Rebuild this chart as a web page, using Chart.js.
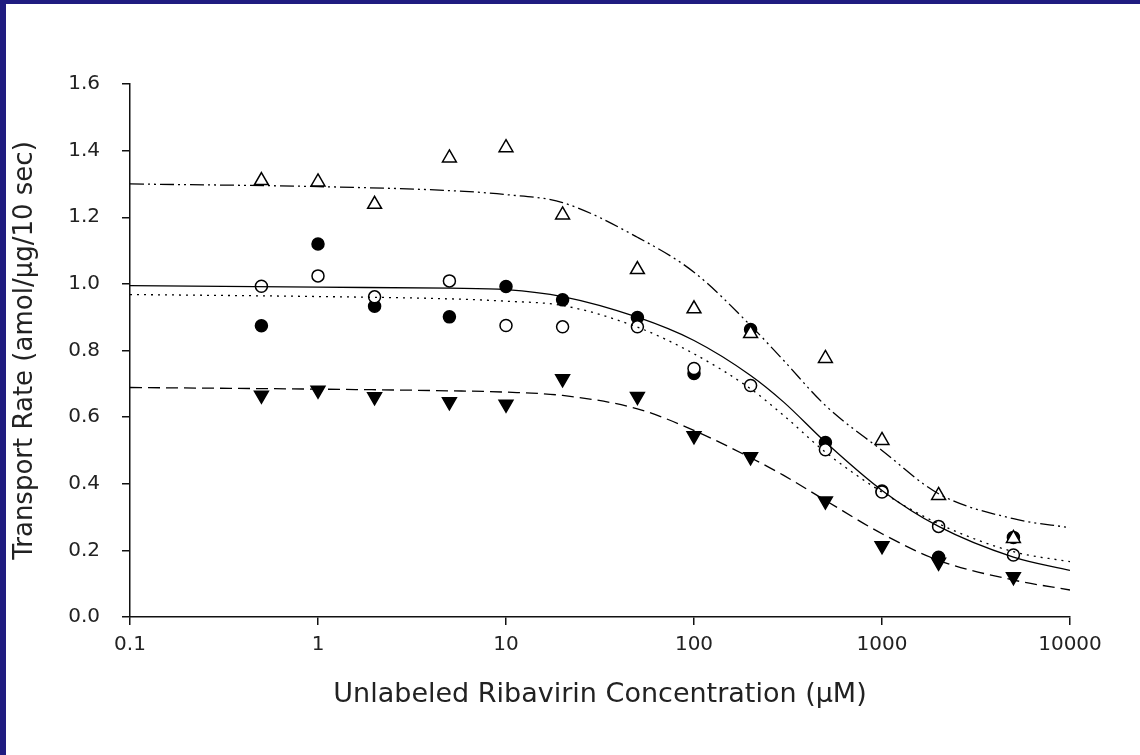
<!DOCTYPE html>
<html>
<head>
<meta charset="utf-8">
<script src="https://cdn.jsdelivr.net/npm/chart.js@4.4.1/dist/chart.umd.min.js"></script>
<style>
  html, body { margin: 0; padding: 0; background: #fff; }
  canvas { display: block; }
</style>
</head>
<body>
<canvas id="transportChart" width="1140" height="755"></canvas>
<script>
// measured concentrations (uM)
const concentrations = [0.5, 1, 2, 5, 10, 20, 50, 100, 200, 500, 1000, 2000, 5000];

// data points
const openTriangles = [1.31, 1.306, 1.239, 1.378, 1.409, 1.207, 1.043, 0.925, 0.851, 0.776, 0.530, 0.365, 0.236];
const filledCircles = [0.874, 1.12, 0.933, 0.901, 0.992, 0.952, 0.899, 0.731, 0.863, 0.524, 0.378, 0.179, 0.239];
const openCircles = [0.993, 1.024, 0.961, 1.009, 0.875, 0.871, 0.871, 0.746, 0.695, 0.502, 0.375, 0.272, 0.186];
const filledTriangles = [0.666, 0.681, 0.661, 0.646, 0.639, 0.715, 0.662, 0.544, 0.481, 0.348, 0.214, 0.164, 0.121];

// fitted curves, sampled from the figure
const curveX = [0.1, 1, 5, 10, 20, 50, 100, 200, 300, 500, 1000, 2000, 5000, 10000];
const curveOpenTriangles = [1.300, 1.292, 1.280, 1.268, 1.244, 1.14, 1.035, 0.875, 0.77, 0.635, 0.50, 0.37, 0.295, 0.268];
const curveFilledCircles = [0.995, 0.99, 0.987, 0.983, 0.962, 0.90, 0.83, 0.725, 0.645, 0.525, 0.38, 0.272, 0.18, 0.14];
const curveOpenCircles = [0.968, 0.962, 0.955, 0.948, 0.935, 0.87, 0.79, 0.685, 0.605, 0.495, 0.375, 0.28, 0.196, 0.166];
const curveFilledTriangles = [0.689, 0.684, 0.679, 0.675, 0.665, 0.625, 0.56, 0.478, 0.425, 0.35, 0.25, 0.17, 0.111, 0.081];

// axis ticks
const xTicks = [0.1, 1, 10, 100, 1000, 10000];
const yTicks = [0, 0.2, 0.4, 0.6, 0.8, 1.0, 1.2, 1.4, 1.6];

const pts = (xs, ys) => xs.map((x, i) => ({ x: x, y: ys[i] }));

function curve(ys, dash) {
    return {
        type: 'line',
        data: pts(curveX, ys),
        borderColor: '#000',
        borderWidth: 1.3,
        borderDash: dash,
        pointRadius: 0,
        cubicInterpolationMode: 'monotone',
        fill: false
    };
}

function markers(ys, style, filled, rotation) {
    return {
        type: 'scatter',
        data: pts(concentrations, ys),
        pointStyle: style,
        pointRotation: rotation || 0,
        pointRadius: style === 'circle' ? 6 : 8,
        pointBorderWidth: 1.5,
        pointBorderColor: '#000',
        pointBackgroundColor: filled ? '#000' : '#fff',
        showLine: false
    };
}

// white page with the navy frame at top and left
const framePlugin = {
    id: 'frame',
    beforeDraw(chart) {
        const c = chart.ctx;
        c.save();
        c.fillStyle = '#fff';
        c.fillRect(0, 0, chart.width, chart.height);
        c.fillStyle = '#1f1c80';
        c.fillRect(0, 0, chart.width, 4);
        c.fillRect(0, 0, 6, chart.height);
        c.restore();
    }
};

const tickFont = { family: 'DejaVu Sans', size: 20 };
const xTitleFont = { family: 'DejaVu Sans', size: 27 };
const yTitleFont = { family: 'DejaVu Sans', size: 26 };

const ctx = document.getElementById('transportChart').getContext('2d');
new Chart(ctx, {
    data: {
        datasets: [
            curve(curveOpenTriangles, [14, 4, 2, 4, 2, 4]),
            curve(curveFilledCircles, []),
            curve(curveOpenCircles, [2, 5]),
            curve(curveFilledTriangles, [12, 6]),
            markers(filledTriangles, 'triangle', true, 180),
            markers(openTriangles, 'triangle', false),
            markers(openCircles, 'circle', false),
            markers(filledCircles, 'circle', true)
        ]
    },
    options: {
        responsive: false,
        animation: false,
        layout: { padding: { top: 84, right: 70, bottom: 0, left: 0 } },
        plugins: {
            legend: { display: false },
            tooltip: { enabled: false }
        },
        scales: {
            x: {
                type: 'logarithmic',
                position: 'bottom',
                min: 0.1,
                max: 10000,
                afterBuildTicks: (s) => { s.ticks = xTicks.map(v => ({ value: v })); },
                afterFit: (s) => { s.height = 138; },
                ticks: {
                    autoSkip: false,
                    maxRotation: 0,
                    padding: 8,
                    color: '#222',
                    font: tickFont,
                    callback: (v) => String(v)
                },
                grid: { drawOnChartArea: false, drawTicks: true, tickLength: 8, color: '#111', lineWidth: 1.5 },
                border: { display: true, color: '#111', width: 1.5 },
                title: {
                    display: true,
                    text: 'Unlabeled Ribavirin Concentration (\u00b5M)',
                    color: '#222',
                    font: xTitleFont,
                    padding: { top: 0, bottom: 44 }
                }
            },
            y: {
                type: 'linear',
                min: 0,
                max: 1.6,
                afterBuildTicks: (s) => { s.ticks = yTicks.map(v => ({ value: v })); },
                afterFit: (s) => { s.width = 130; },
                ticks: {
                    padding: 22,
                    color: '#222',
                    font: tickFont,
                    callback: (v) => v.toFixed(1)
                },
                grid: { drawOnChartArea: false, drawTicks: true, tickLength: 8, color: '#111', lineWidth: 1.5 },
                border: { display: true, color: '#111', width: 1.5 },
                title: {
                    display: true,
                    text: 'Transport Rate (amol/\u00b5g/10 sec)',
                    color: '#222',
                    font: yTitleFont,
                    padding: { top: 10, bottom: 0 }
                }
            }
        }
    },
    plugins: [framePlugin]
});
</script>
</body>
</html>
